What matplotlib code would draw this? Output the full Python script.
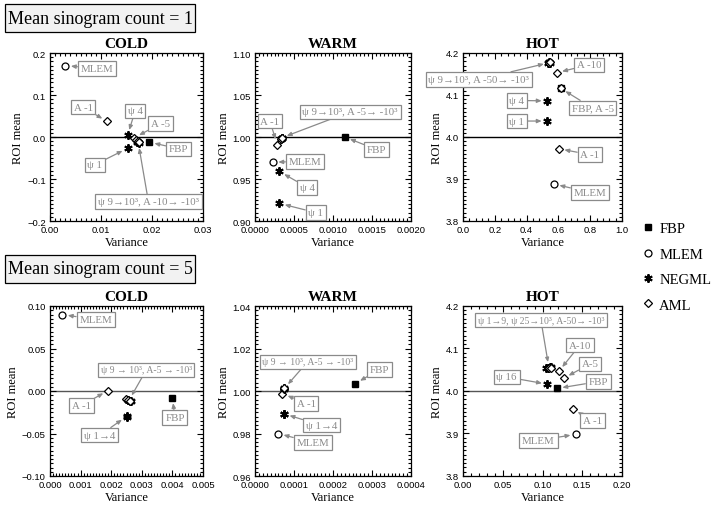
import matplotlib
matplotlib.use("Agg")
import matplotlib.pyplot as plt
from matplotlib.ticker import MultipleLocator, AutoMinorLocator, FuncFormatter
from matplotlib.lines import Line2D
from matplotlib.patches import FancyBboxPatch

SERIF = ['Liberation Serif', 'DejaVu Serif']
SANS = ['Liberation Sans', 'DejaVu Sans']
GRAY = '#8a8a8a'

# ---- data (variance, ROI mean) ----
# mean sinogram count = 1
cold1_fbp_x, cold1_fbp_y = [0.0194], [-0.012]
cold1_mlem_x, cold1_mlem_y = [0.0030], [0.170]
cold1_neg_x = [0.0152, 0.0152, 0.0171, 0.0173, 0.0175]
cold1_neg_y = [-0.027, 0.004, -0.011, -0.013, -0.014]
cold1_aml_x = [0.0112, 0.0165, 0.0169, 0.0172, 0.0174]
cold1_aml_y = [0.037, -0.002, -0.006, -0.010, -0.013]

warm1_fbp_x, warm1_fbp_y = [0.00115], [1.000]
warm1_mlem_x, warm1_mlem_y = [0.000227], [0.970]
warm1_neg_x = [0.000312, 0.000312, 0.000335, 0.000345, 0.000350]
warm1_neg_y = [0.921, 0.959, 0.998, 0.999, 0.999]
warm1_aml_x = [0.000286, 0.000330, 0.000340]
warm1_aml_y = [0.991, 0.998, 0.999]

hot1_fbp_x, hot1_fbp_y = [0.614], [4.116]
hot1_mlem_x, hot1_mlem_y = [0.572], [3.888]
hot1_neg_x = [0.530, 0.530, 0.535, 0.543, 0.550]
hot1_neg_y = [4.038, 4.086, 4.176, 4.178, 4.177]
hot1_aml_x = [0.603, 0.614, 0.589, 0.540, 0.548]
hot1_aml_y = [3.972, 4.116, 4.153, 4.177, 4.179]

# mean sinogram count = 5
cold5_fbp_x, cold5_fbp_y = [0.0040], [-0.0077]
cold5_mlem_x, cold5_mlem_y = [0.0004], [0.090]
cold5_neg_x = [0.00250, 0.00250, 0.00255, 0.00260, 0.00265]
cold5_neg_y = [-0.029, -0.031, -0.011, -0.012, -0.012]
cold5_aml_x = [0.00190, 0.00248, 0.00255, 0.00260]
cold5_aml_y = [0.0005, -0.0096, -0.011, -0.012]

warm5_fbp_x, warm5_fbp_y = [0.000257], [1.0035]
warm5_mlem_x, warm5_mlem_y = [0.0000593], [0.980]
warm5_neg_x = [0.0000748, 0.0000748, 0.0000750, 0.0000755]
warm5_neg_y = [0.9894, 0.9890, 1.0010, 1.0014]
warm5_aml_x = [0.0000705, 0.0000750, 0.0000755]
warm5_aml_y = [0.9988, 1.0010, 1.0013]

hot5_fbp_x, hot5_fbp_y = [0.118], [4.006]
hot5_mlem_x, hot5_mlem_y = [0.1421], [3.898]
hot5_neg_x = [0.1062, 0.105, 0.107, 0.109, 0.111]
hot5_neg_y = [4.016, 4.053, 4.055, 4.056, 4.056]
hot5_aml_x = [0.138, 0.1266, 0.1204, 0.108, 0.111]
hot5_aml_y = [3.957, 4.030, 4.046, 4.054, 4.055]

methods = ['FBP', 'MLEM', 'NEGML', 'AML']
titles = ['COLD', 'WARM', 'HOT']
headers = ['Mean sinogram count = 1', 'Mean sinogram count = 5']

# annotations: (label, point it refers to, label centre)
ann_cold1 = [('MLEM', (0.0030, 0.170), (0.0092, 0.163)),
             ('A -1', (0.0112, 0.037), (0.0065, 0.071)),
             ('\u03c8 4', (0.0152, 0.004), (0.0167, 0.062)),
             ('A -5', (0.0165, -0.002), (0.0217, 0.032)),
             ('FBP', (0.0194, -0.012), (0.0252, -0.028)),
             ('\u03c8 1', (0.0152, -0.027), (0.0088, -0.066)),
             ('\u03c8 9\u219210\u00b3, A -10\u2192 -10\u00b3', (0.0173, -0.013), (0.0193, -0.154))]
ann_warm1 = [('\u03c8 9\u219210\u00b3, A -5\u2192 -10\u00b3', (0.00034, 0.999), (0.00122, 1.030)),
             ('A -1', (0.000286, 0.991), (0.00019, 1.019)),
             ('FBP', (0.00115, 1.000), (0.00156, 0.985)),
             ('MLEM', (0.000227, 0.970), (0.00064, 0.971)),
             ('\u03c8 4', (0.000312, 0.959), (0.00067, 0.940)),
             ('\u03c8 1', (0.000312, 0.921), (0.00078, 0.910))]
ann_hot1 = [('\u03c8 9\u219210\u00b3, A -50\u2192 -10\u00b3', (0.543, 4.177), (0.10, 4.137)),
            ('A -10', (0.589, 4.153), (0.793, 4.172)),
            ('FBP, A -5', (0.614, 4.116), (0.815, 4.069)),
            ('\u03c8 4', (0.530, 4.086), (0.338, 4.087)),
            ('\u03c8 1', (0.530, 4.038), (0.338, 4.038)),
            ('A -1', (0.603, 3.972), (0.798, 3.958)),
            ('MLEM', (0.572, 3.888), (0.798, 3.868))]
ann_cold5 = [('MLEM', (0.0004, 0.090), (0.00149, 0.084)),
             ('\u03c8 9 \u2192 10\u00b3, A-5 \u2192 -10\u00b3', (0.00258, -0.011), (0.00315, 0.025)),
             ('A -1', (0.0019, 0.0005), (0.00103, -0.017)),
             ('FBP', (0.0040, -0.0077), (0.00408, -0.031)),
             ('\u03c8 1\u21924', (0.0025, -0.030), (0.00163, -0.052))]
ann_warm5 = [('\u03c8 9 \u2192 10\u00b3, A-5 \u2192 -10\u00b3', (0.0000752, 1.0012), (0.000135, 1.0138)),
             ('FBP', (0.000257, 1.0035), (0.00032, 1.0102)),
             ('A -1', (0.0000705, 0.9988), (0.000131, 0.9941)),
             ('\u03c8 1\u21924', (0.0000748, 0.9892), (0.00017, 0.9839)),
             ('MLEM', (0.0000593, 0.980), (0.000148, 0.9757))]
ann_hot5 = [('\u03c8 1\u21929, \u03c8 25\u219210\u00b3, A-50\u2192 -10\u00b3', (0.108, 4.055), (0.098, 4.167)),
            ('A-10', (0.1204, 4.046), (0.147, 4.108)),
            ('A-5', (0.1266, 4.030), (0.160, 4.064)),
            ('FBP', (0.118, 4.006), (0.170, 4.022)),
            ('\u03c8 16', (0.1062, 4.016), (0.055, 4.033)),
            ('A -1', (0.138, 3.957), (0.163, 3.931)),
            ('MLEM', (0.1421, 3.898), (0.095, 3.884))]

# ---- layout ----
W, H = 714, 506
col_left = [50, 255, 463]
col_w = [153, 156, 159]
row_top = [54, 307]
row_h = [168, 170]

panel_data = [
    [(cold1_fbp_x, cold1_fbp_y, cold1_mlem_x, cold1_mlem_y, cold1_neg_x, cold1_neg_y, cold1_aml_x, cold1_aml_y),
     (warm1_fbp_x, warm1_fbp_y, warm1_mlem_x, warm1_mlem_y, warm1_neg_x, warm1_neg_y, warm1_aml_x, warm1_aml_y),
     (hot1_fbp_x, hot1_fbp_y, hot1_mlem_x, hot1_mlem_y, hot1_neg_x, hot1_neg_y, hot1_aml_x, hot1_aml_y)],
    [(cold5_fbp_x, cold5_fbp_y, cold5_mlem_x, cold5_mlem_y, cold5_neg_x, cold5_neg_y, cold5_aml_x, cold5_aml_y),
     (warm5_fbp_x, warm5_fbp_y, warm5_mlem_x, warm5_mlem_y, warm5_neg_x, warm5_neg_y, warm5_aml_x, warm5_aml_y),
     (hot5_fbp_x, hot5_fbp_y, hot5_mlem_x, hot5_mlem_y, hot5_neg_x, hot5_neg_y, hot5_aml_x, hot5_aml_y)]]
panel_ann = [[ann_cold1, ann_warm1, ann_hot1], [ann_cold5, ann_warm5, ann_hot5]]
# (xmin, xmax, xstep, xfmt, ymin, ymax, ystep, yfmt, ref line)
panel_axes = [
    [(0, 0.03, 0.01, '%.2f', -0.2, 0.2, 0.1, '%.1f', 0.0),
     (0, 0.002, 0.0005, '%.4f', 0.9, 1.1, 0.05, '%.2f', 1.0),
     (0, 1.0, 0.2, '%.1f', 3.8, 4.2, 0.1, '%.1f', 4.0)],
    [(0, 0.005, 0.001, '%.3f', -0.1, 0.1, 0.05, '%.2f', 0.0),
     (0, 0.0004, 0.0001, '%.4f', 0.96, 1.04, 0.02, '%.2f', 1.0),
     (0, 0.2, 0.05, '%.2f', 3.8, 4.2, 0.1, '%.1f', 4.0)]]

mk = {
    'FBP': dict(marker='s', ms=5, mfc='black', mec='black'),
    'MLEM': dict(marker='o', ms=5, mfc='white', mec='black', mew=0.9),
    'NEGML': dict(marker=(6, 2, 0), ms=6, mec='black', mew=1.4),
    'AML': dict(marker='D', ms=3.6, mfc='white', mec='black', mew=0.9),
}


def fmt(f):
    return FuncFormatter(lambda v, p: (f % v).replace('-', '\u2212'))


fig = plt.figure(figsize=(W / 100, H / 100), dpi=100)

for r in range(2):
    for c in range(3):
        ax = fig.add_axes([col_left[c] / W, 1 - (row_top[r] + row_h[r]) / H, col_w[c] / W, row_h[r] / H])
        x0, x1, xs, xf, y0, y1, ys, yf, ref = panel_axes[r][c]
        d = panel_data[r][c]
        ax.axhline(ref, color='black' if r == 0 else '#555555', lw=1.0, zorder=1)
        for i, m in enumerate(methods):
            ax.plot(d[2 * i], d[2 * i + 1], ls='none', zorder=3, **mk[m])
        ax.set_xlim(x0, x1)
        ax.set_ylim(y0, y1)
        ax.xaxis.set_major_locator(MultipleLocator(xs))
        ax.yaxis.set_major_locator(MultipleLocator(ys))
        ax.xaxis.set_minor_locator(AutoMinorLocator(5 if c == 2 else 10))
        ax.yaxis.set_minor_locator(AutoMinorLocator(10))
        ax.xaxis.set_major_formatter(fmt(xf))
        ax.yaxis.set_major_formatter(fmt(yf))
        ax.tick_params(which='both', direction='in', top=True, right=True, width=0.8)
        ax.tick_params(which='major', length=4, labelsize=6.8, pad=3)
        ax.tick_params(which='minor', length=2)
        for lab in ax.get_xticklabels() + ax.get_yticklabels():
            lab.set_family(SANS)
        for s in ax.spines.values():
            s.set_linewidth(0.9)
        ax.set_title(titles[c], family=SERIF, fontsize=11, fontweight='bold', pad=4)
        ax.set_xlabel('Variance', family=SERIF, fontsize=9, labelpad=1)
        ax.set_ylabel('ROI mean', family=SERIF, fontsize=9, labelpad=2)
        for label, pt, tp in panel_ann[r][c]:
            fs = 7.0 if len(label) > 20 else 7.8
            ax.annotate(label, xy=pt, xytext=tp, ha='center', va='center',
                        family=SERIF, fontsize=fs, color=GRAY, zorder=4,
                        bbox=dict(boxstyle='square,pad=0.25', fc='white', ec=GRAY, lw=0.9),
                        arrowprops=dict(arrowstyle='-|>,head_length=0.35,head_width=0.15',
                                        color=GRAY, lw=0.9, shrinkA=0, shrinkB=4),
                        annotation_clip=False)

# header boxes
for r, hy in enumerate([5, 256]):
    fig.add_artist(FancyBboxPatch((5 / W, 1 - (hy + 28) / H), 190 / W, 28 / H,
                                  boxstyle='square,pad=0', transform=fig.transFigure,
                                  fc='#f2f2f2', ec='black', lw=0.9))
    fig.text(100 / W, 1 - (hy + 14) / H, headers[r], family=SERIF, fontsize=13,
             ha='center', va='center')

# legend
handles = [Line2D([], [], ls='none', **mk[m]) for m in methods]
fig.legend(handles, methods, loc='upper left', bbox_to_anchor=(641 / W, 1 - 223 / H),
           frameon=False, prop={'family': SERIF, 'size': 10.5}, handlelength=0.9,
           handletextpad=0.35, labelspacing=0.84, borderaxespad=0, borderpad=0)

fig.savefig('out.png', dpi=100)
